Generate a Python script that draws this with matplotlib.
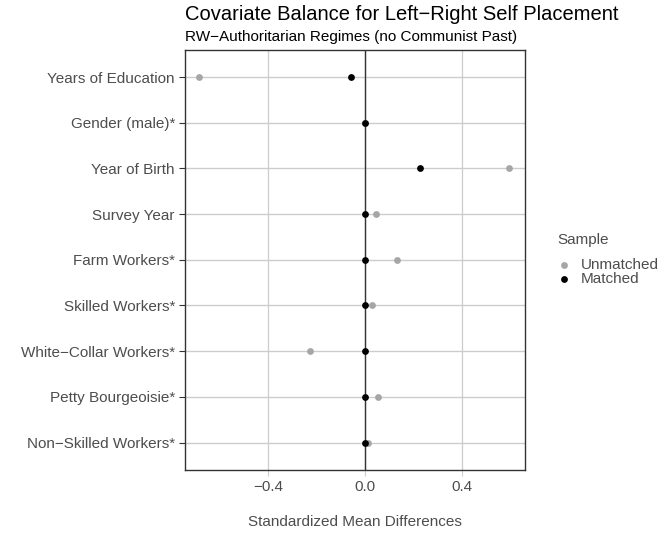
import matplotlib
matplotlib.use('Agg')
import matplotlib.pyplot as plt

plt.rcParams['font.family'] = ['Liberation Sans', 'DejaVu Sans']

covariates = [
    "Years of Education", "Gender (male)*", "Year of Birth", "Survey Year",
    "Farm Workers*", "Skilled Workers*", "White\u2212Collar Workers*",
    "Petty Bourgeoisie*", "Non\u2212Skilled Workers*",
]
unmatched = [-0.683, 0.0, 0.597, 0.048, 0.134, 0.028, -0.225, 0.055, 0.014]
matched = [-0.055, 0.0, 0.228, 0.0, 0.0, 0.0, 0.0, 0.0, 0.0]
x_ticks = [-0.4, 0.0, 0.4]
x_tick_labels = ["\u22120.4", "0.0", "0.4"]

W, H = 662, 535
fig = plt.figure(figsize=(W / 100, H / 100), dpi=100)
left, right, top, bottom = 184.7, 525.0, 49.6, 470.0
ax = fig.add_axes([left / W, 1 - bottom / H, (right - left) / W, (bottom - top) / H])

ypos = list(range(len(covariates), 0, -1))
n = len(covariates)

grid_c = '#CCCCCC'
for y in ypos:
    ax.axhline(y, color=grid_c, lw=1.0, zorder=0)
for x in x_ticks:
    ax.axvline(x, color=grid_c, lw=0.9, zorder=0)
ax.axvline(0, color='#333333', lw=1.0, zorder=1)

ax.scatter(unmatched, ypos, s=24, color='#A6A6A6', zorder=3, linewidths=0, label='Unmatched')
ax.scatter(matched, ypos, s=24, color='black', zorder=4, linewidths=0, label='Matched')

ax.set_xlim(-0.744, 0.662)
ax.set_ylim(0.4, n + 0.6)
ax.set_xticks(x_ticks)
ax.set_xticklabels(x_tick_labels)
ax.set_yticks(ypos)
ax.set_yticklabels(covariates)
ax.tick_params(axis='both', colors='#333333', labelcolor='#4D4D4D', labelsize=11,
               length=4, width=0.8)
ax.tick_params(axis='x', colors=grid_c, labelcolor='#4D4D4D', pad=3)
ax.tick_params(axis='y', pad=3)
for sp in ax.spines.values():
    sp.set_color('#333333')
    sp.set_linewidth(1.0)

ax.set_xlabel("Standardized Mean Differences", fontsize=11, color='#4D4D4D', labelpad=15)

fig.text(left / W, 1 - 15 / H, "Covariate Balance for Left\u2212Right Self Placement",
         fontsize=14.5, color='black', va='center', ha='left')
fig.text(left / W, 1 - 37 / H, "RW\u2212Authoritarian Regimes (no Communist Past)",
         fontsize=11, color='black', va='center', ha='left')

# legend: title drawn separately to get the ggplot-like gap
fig.text(557 / W, 1 - 240 / H, "Sample", fontsize=11, color='#4D4D4D',
         va='center', ha='left')
leg = fig.legend(handles=ax.collections[:2], loc='center left',
                 bbox_to_anchor=(558 / W, 1 - 272 / H), frameon=False,
                 fontsize=11, handlelength=0.8, handletextpad=0.7,
                 labelspacing=0.05, borderpad=0, borderaxespad=0,
                 markerscale=1.0)
for t in leg.get_texts():
    t.set_color('#4D4D4D')

fig.savefig('out.png', dpi=100)
